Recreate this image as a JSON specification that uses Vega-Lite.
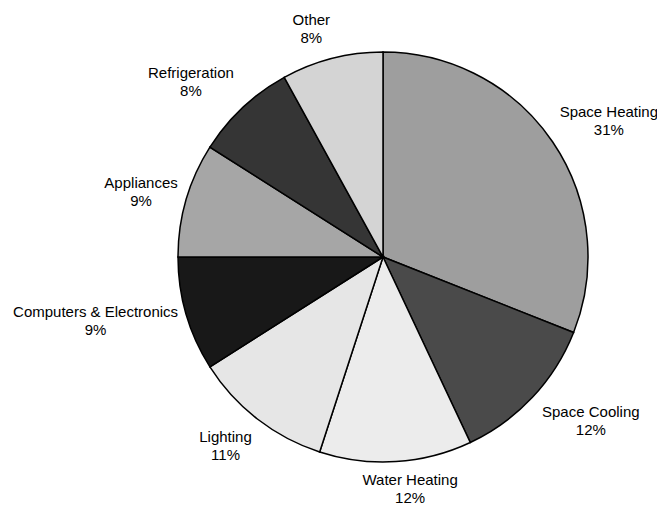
{
  "$schema": "https://vega.github.io/schema/vega-lite/v6.json",
  "width": 410,
  "height": 410,
  "autosize": "none",
  "padding": {"left": 178, "top": 52, "right": 69, "bottom": 43},
  "background": "white",
  "view": {"stroke": null},
  "data": {
    "values": [
      {"order": 1, "category": "Space Heating", "value": 31},
      {"order": 2, "category": "Space Cooling", "value": 12},
      {"order": 3, "category": "Water Heating", "value": 12},
      {"order": 4, "category": "Lighting", "value": 11},
      {"order": 5, "category": "Computers & Electronics", "value": 9},
      {"order": 6, "category": "Appliances", "value": 9},
      {"order": 7, "category": "Refrigeration", "value": 8},
      {"order": 8, "category": "Other", "value": 8}
    ]
  },
  "transform": [
    {"stack": "value", "groupby": [], "sort": [{"field": "order", "order": "ascending"}], "as": ["v0", "v1"]},
    {"calculate": "(datum.v0 + datum.v1) / 2", "as": "mid"},
    {"calculate": "datum.category + '\\n' + datum.value + '%'", "as": "label"}
  ],
  "encoding": {
    "theta": {"field": "mid", "type": "quantitative", "stack": null, "scale": {"domain": [0, 100]}},
    "text": {"field": "label", "type": "nominal"}
  },
  "layer": [
    {
      "mark": {"type": "arc", "stroke": "black", "strokeWidth": 1.5},
      "encoding": {
        "theta": {"field": "v0", "type": "quantitative", "stack": null, "scale": {"domain": [0, 100]}},
        "theta2": {"field": "v1"},
        "text": null,
        "color": {
          "field": "category",
          "type": "nominal",
          "legend": null,
          "scale": {
            "domain": ["Space Heating", "Space Cooling", "Water Heating", "Lighting", "Computers & Electronics", "Appliances", "Refrigeration", "Other"],
            "range": ["#9e9e9e", "#4a4a4a", "#ececec", "#e6e6e6", "#181818", "#a6a6a6", "#353535", "#d4d4d4"]
          }
        }
      }
    },
    {
      "transform": [{"filter": "datum.category === 'Space Heating'"}],
      "mark": {"type": "text", "font": "Liberation Sans", "fontSize": 15, "lineBreak": "\n", "lineHeight": 18, "color": "black", "radius": 267, "dx": 5, "dy": 5}
    },
    {
      "transform": [{"filter": "datum.category === 'Space Cooling'"}],
      "mark": {"type": "text", "font": "Liberation Sans", "fontSize": 15, "lineBreak": "\n", "lineHeight": 18, "color": "black", "radius": 259, "dx": 19, "dy": -22}
    },
    {
      "transform": [{"filter": "datum.category === 'Water Heating'"}],
      "mark": {"type": "text", "font": "Liberation Sans", "fontSize": 15, "lineBreak": "\n", "lineHeight": 18, "color": "black", "radius": 225, "dx": 13, "dy": -2}
    },
    {
      "transform": [{"filter": "datum.category === 'Lighting'"}],
      "mark": {"type": "text", "font": "Liberation Sans", "fontSize": 15, "lineBreak": "\n", "lineHeight": 18, "color": "black", "radius": 239, "dx": -11, "dy": -9}
    },
    {
      "transform": [{"filter": "datum.category === 'Computers & Electronics'"}],
      "mark": {"type": "text", "font": "Liberation Sans", "fontSize": 15, "lineBreak": "\n", "lineHeight": 18, "color": "black", "radius": 292, "dx": -7, "dy": -26}
    },
    {
      "transform": [{"filter": "datum.category === 'Appliances'"}],
      "mark": {"type": "text", "font": "Liberation Sans", "fontSize": 15, "lineBreak": "\n", "lineHeight": 18, "color": "black", "radius": 253, "dx": 1, "dy": -3}
    },
    {
      "transform": [{"filter": "datum.category === 'Refrigeration'"}],
      "mark": {"type": "text", "font": "Liberation Sans", "fontSize": 15, "lineBreak": "\n", "lineHeight": 18, "color": "black", "radius": 266, "dx": -10, "dy": 10}
    },
    {
      "transform": [{"filter": "datum.category === 'Other'"}],
      "mark": {"type": "text", "font": "Liberation Sans", "fontSize": 15, "lineBreak": "\n", "lineHeight": 18, "color": "black", "radius": 248, "dx": -10, "dy": 3}
    }
  ]
}
